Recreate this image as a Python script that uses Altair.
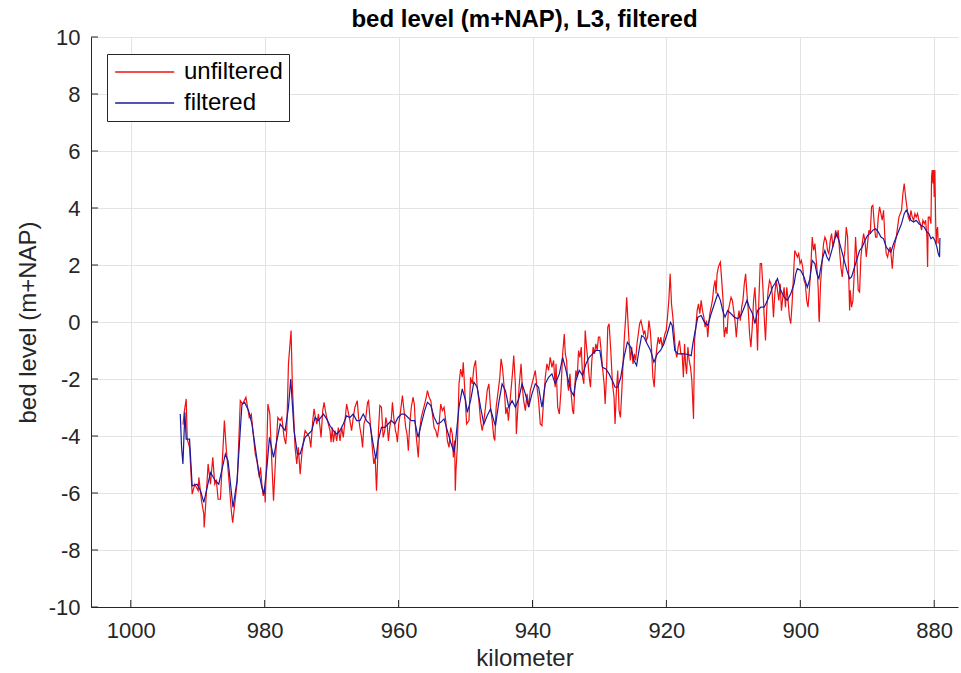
import altair as alt
import pandas as pd

# ---- data ----
red_km = [992.20, 992.02, 991.72, 991.57, 991.22, 990.83, 990.43, 989.93, 989.83, 989.44, 989.09, 989.04, 988.84, 988.45, 988.10, 987.75, 987.46, 987.21, 986.96, 986.61, 986.37, 986.02, 985.72, 985.37, 984.98, 984.78, 984.53, 984.09, 983.64, 983.29, 982.80, 982.30, 982.00, 981.76, 981.41, 981.16, 980.81, 980.62, 980.42, 980.22, 980.02, 979.92, 979.72, 979.52, 979.23, 979.03, 978.68, 978.34, 978.04, 977.69, 977.44, 977.10, 976.85, 976.70, 976.45, 976.06, 975.86, 975.46, 975.21, 974.97,
          974.70, 974.45, 974.20, 973.96, 973.61, 973.31, 973.11, 972.82, 972.62, 972.42, 972.22, 971.97, 971.73, 971.58, 971.33, 971.13, 970.93, 970.74, 970.49, 970.24, 970.09, 969.89, 969.74, 969.50, 969.25, 969.00, 968.75, 968.50, 968.26, 968.01, 967.76, 967.51, 967.27, 967.02, 966.77, 966.52, 966.17, 965.98, 965.78, 965.53, 965.38, 965.18, 964.89, 964.64, 964.49, 964.29, 964.04, 963.89, 963.70, 963.50, 963.30, 963.15, 963.00, 962.80, 962.56, 962.31, 962.06, 961.91, 961.71, 961.52, 961.32, 961.07, 960.92, 960.72, 960.47, 960.33, 960.18, 959.98, 959.83, 959.58, 959.43, 959.19, 958.94, 958.74, 958.54, 958.34, 958.10, 957.85, 957.65, 957.45, 957.25, 957.06, 956.86, 956.61, 956.36, 956.11, 955.87,
          955.69, 955.44, 955.19, 954.70, 954.45, 954.20, 953.95, 953.71, 953.46, 953.21, 952.96, 952.72, 952.47, 952.22, 951.97, 951.82, 951.63, 951.53, 951.43, 951.23, 950.98, 950.73, 950.49, 950.34, 950.14, 949.84, 949.49, 949.25, 949.00, 948.75, 948.50, 948.26, 948.01, 947.76, 947.51, 947.26, 947.02, 946.77, 946.52, 946.27, 946.02, 945.78, 945.63, 945.43, 945.18, 944.88, 944.69, 944.49, 944.19, 943.99, 943.79, 943.60, 943.30, 943.00, 942.80, 942.56, 942.41, 942.21, 942.01, 941.71, 941.51, 941.32, 941.07, 940.82, 940.57, 940.33, 940.08, 939.83, 939.58, 939.33, 939.09, 938.84, 938.59, 938.34, 938.09, 937.85, 937.60, 937.35, 937.10, 936.85, 936.61,
          936.49, 936.24, 935.99, 935.75, 935.50, 935.25, 935.10, 934.90, 934.76, 934.61, 934.41, 934.26, 934.01, 933.86, 933.66, 933.52, 933.32, 933.12, 932.92, 932.72, 932.52, 932.33, 932.13, 931.93, 931.78, 931.53, 931.34, 931.14, 930.94, 930.74, 930.54, 930.34, 930.15, 929.95, 929.75, 929.55, 929.30, 929.15, 928.96, 928.76, 928.56, 928.31, 928.06, 927.82, 927.67, 927.47, 927.27, 927.07, 926.87, 926.68, 926.48, 926.28, 926.08, 925.93, 925.78, 925.59, 925.39, 925.19, 924.99, 924.79, 924.59, 924.40, 924.20, 924.00, 923.80, 923.60, 923.40, 923.21, 923.01, 922.81, 922.61, 922.41, 922.21, 922.02, 921.82, 921.62, 921.42, 921.22, 921.03, 920.83, 920.63, 920.43, 920.23, 920.03, 919.84, 919.64, 919.44, 919.24, 919.04, 918.84, 918.65, 918.45, 918.25, 918.05, 917.85, 917.65, 917.46,
          917.29, 917.14, 916.99, 916.79, 916.60, 916.40, 916.20, 915.95, 915.80, 915.60, 915.41, 915.21, 915.01, 914.81, 914.61, 914.41, 914.22, 914.02, 913.82, 913.67, 913.52, 913.32, 913.13, 912.93, 912.73, 912.58, 912.43, 912.23, 912.04, 911.94, 911.74, 911.54, 911.44, 911.34, 911.14, 910.95, 910.75, 910.55, 910.35, 910.15, 909.95, 909.76, 909.56, 909.36, 909.16, 908.96, 908.76, 908.57, 908.37, 908.17, 907.97, 907.77, 907.58, 907.38, 907.18, 906.98, 906.78, 906.58, 906.39, 906.19, 905.99, 905.79, 905.59, 905.39, 905.20, 905.00, 904.80, 904.60, 904.40, 904.20, 904.01, 903.81, 903.61, 903.41, 903.21, 903.01, 902.82, 902.62, 902.42, 902.22, 902.02, 901.83, 901.63, 901.43, 901.23, 901.03, 900.83, 900.64, 900.44, 900.24, 900.04, 899.84, 899.65, 899.45, 899.25, 899.05, 898.85, 898.65, 898.46,
          898.22, 898.02, 897.82, 897.62, 897.42, 897.32, 897.22, 897.17, 896.98, 896.73, 896.53, 896.33, 896.13, 895.93, 895.73, 895.53, 895.33, 895.13, 894.93, 894.73, 894.54, 894.34, 894.14, 893.94, 893.74, 893.54, 893.34, 893.14, 892.94, 892.74, 892.64, 892.54, 892.35, 892.15, 891.95, 891.75, 891.55, 891.35, 891.15, 890.95, 890.75, 890.55, 890.35, 890.15, 889.96, 889.76, 889.56, 889.36, 889.16, 888.96, 888.76, 888.56, 888.36, 888.16, 887.96, 887.77, 887.57, 887.37, 887.17, 886.97, 886.77, 886.57, 886.37, 886.27, 886.07, 885.87, 885.67, 885.47, 885.27, 885.08, 884.88, 884.68, 884.48, 884.28, 884.08, 883.88, 883.68, 883.48, 883.28, 883.08, 882.89, 882.69, 882.49, 882.29, 882.09, 881.89, 881.69, 881.49, 881.29, 881.09, 880.99, 880.89, 880.69, 880.49, 880.40, 880.30, 880.20, 880.10, 880.00, 879.90, 879.80, 879.70, 879.60, 879.50, 879.40]

red_level = [-3.60, -3.17, -2.70, -4.11, -4.40, -6.04, -5.69, -5.92, -5.45, -6.27, -6.74, -7.21, -6.51, -4.98, -5.69, -4.75, -5.69, -5.57, -6.22, -6.22, -5.10, -3.46, -4.52, -5.45, -6.63, -7.04, -6.51, -5.57, -2.76, -2.88, -2.64, -3.35, -3.23, -3.81, -4.63, -4.87, -5.45, -5.10, -5.69, -6.10, -5.81, -6.33, -4.87, -2.88, -3.23, -4.40, -6.27, -4.63, -3.35, -3.46, -3.35, -4.05, -4.28, -3.81, -1.47, -0.30, -2.29, -4.40, -4.98, -4.40,
             -5.34, -4.63, -4.17, -3.81, -3.93, -4.05, -4.40, -3.46, -3.05, -3.35, -3.58, -3.23, -3.70, -4.05, -3.11, -2.82, -3.11, -3.35, -3.58, -3.81, -4.22, -3.70, -4.22, -3.81, -4.17, -3.70, -4.17, -3.70, -4.05, -3.46, -2.88, -3.17, -3.46, -3.81, -3.35, -2.99, -2.76, -3.35, -3.70, -4.05, -4.40, -3.58, -3.35, -2.82, -2.76, -3.35, -4.05, -4.52, -4.98, -4.75, -5.92, -4.98, -3.81, -2.93, -2.99, -4.05, -3.81, -3.35, -3.58, -4.17, -3.70, -3.35, -2.82, -3.35, -3.81, -3.93, -4.22, -3.58, -3.35, -2.88, -2.58, -3.11, -3.70, -3.93, -4.52, -3.58, -2.99, -2.64, -2.88, -3.81, -4.28, -4.75, -3.81, -3.35, -3.11, -2.88, -2.64,
             -2.41, -2.64, -2.76, -3.70, -3.81, -4.05, -3.58, -2.88, -3.11, -2.99, -3.46, -4.16, -4.40, -3.70, -3.93, -4.75, -4.16, -5.92, -5.22, -4.40, -2.17, -1.65, -1.94, -1.41, -2.29, -3.58, -3.46, -1.94, -2.17, -1.59, -1.35, -2.29, -2.76, -3.46, -3.81, -3.46, -2.99, -2.41, -2.17, -2.99, -3.46, -4.05, -4.16, -2.99, -2.52, -1.94, -1.29, -1.59, -2.41, -3.23, -2.99, -3.46, -2.64, -1.82, -1.18, -2.17, -3.93, -3.11, -2.29, -1.47, -2.29, -2.76, -3.11, -2.52, -2.99, -2.41, -2.17, -1.94, -1.70, -2.29, -2.76, -3.58, -3.64, -2.76, -1.94, -1.47, -1.70, -1.24, -1.59, -1.35, -2.29,
             -1.47, -2.99, -3.23, -2.41, -1.12, -0.42, -1.12, -1.35, -2.17, -2.41, -1.82, -2.41, -3.11, -3.23, -2.17, -1.70, -1.94, -1.00, -1.24, -0.88, -1.94, -2.17, -0.30, -0.88, -1.24, -1.94, -2.29, -1.35, -0.88, -1.12, -0.77, -1.00, -0.53, -0.53, -1.00, -1.59, -2.17, -2.88, -1.94, -0.18, -0.06, -1.00, -2.17, -2.64, -3.58, -2.41, -1.70, -3.11, -3.35, -2.52, -1.47, -0.53, 0.17, 0.87, 0.17, -0.65, -1.35, -0.88, -1.47, -1.12, -1.35, -0.77, -0.42, -0.06, 0.05, -0.18, -0.42, -0.30, -0.65, -0.53, 0.05, -0.30, -1.00, -1.94, -2.29, -1.35, -0.88, -0.53, -0.77, -0.53, -0.88, -0.65, -0.42, -0.30, 0.17, 0.76, 1.69, 0.64, 0.17, -0.42, -1.00, -1.24, -0.88, -0.65, -1.12, -1.12, -1.94,
             -0.77, -1.47, -1.82, -0.88, -1.35, -1.59, -2.06, -3.40, -0.65, -0.18, 0.40, 0.64, 0.29, 0.76, 0.40, 0.17, -0.18, 0.05, -0.53, -0.06, 0.29, 0.52, 0.76, 1.22, 1.46, 0.99, 1.69, 1.93, 2.05, 2.10, 1.46, 0.76, -0.18, -0.53, -0.18, -0.42, 0.40, 0.64, 0.87, 0.76, 0.40, 0.05, -0.53, 0.05, 0.40, 0.05, 0.52, 0.76, 1.34, 1.69, 0.99, 0.40, -0.42, -0.88, -0.18, 0.76, 1.22, 0.29, -1.00, 0.76, 2.05, 2.05, 1.22, 0.17, -0.65, 0.52, 1.11, 1.46, 1.34, 0.99, 0.17, 0.99, 1.46, 1.11, 0.76, 1.34, 0.40, 0.87, 1.22, 0.52, 1.22, 0.76, 0.17, -0.06, 0.64, 1.58, 2.51, 2.40, 2.28, 2.40, 2.05, 2.16, 1.93, 1.46, 1.34, 0.76, 0.52, 1.11, 1.81,
             2.98, 2.51, 2.75, 2.16, 1.58, 1.11, 0.17, 0.00, 1.34, 2.16, 2.75, 2.98, 2.86, 2.51, 2.40, 2.86, 3.10, 2.63, 2.86, 3.22, 2.98, 3.22, 2.51, 1.93, 1.58, 2.16, 2.51, 3.33, 2.98, 1.34, 0.40, 1.11, 0.52, 0.75, 1.69, 2.98, 2.16, 1.11, 1.05, 2.28, 2.75, 3.10, 2.86, 2.28, 2.75, 3.22, 3.10, 4.04, 4.09, 3.45, 2.98, 2.98, 3.68, 4.04, 3.80, 3.57, 3.92, 2.98, 2.40, 2.28, 2.51, 2.63, 2.16, 1.87, 2.51, 2.75, 2.98, 3.33, 3.68, 3.80, 3.92, 4.50, 4.86, 4.39, 4.04, 3.68, 3.57, 3.92, 3.68, 3.57, 3.80, 3.68, 3.80, 3.57, 3.45, 3.22, 3.57, 3.45, 3.57, 2.98, 1.93, 3.68, 3.68, 3.45, 5.09, 5.33, 4.86, 5.33, 4.39, 5.33, 3.68, 2.75, 3.22, 3.33, 2.75]

blue_km = [992.61, 992.41, 992.21, 991.92, 991.72, 991.22, 990.83, 990.08, 989.59, 989.09, 988.10, 987.36, 986.86, 985.87, 985.47, 984.73, 984.13, 983.39, 982.99, 982.40, 981.90, 981.41, 980.91, 980.42, 980.12, 979.67, 979.28, 978.68, 977.69, 976.95, 976.45, 976.11, 975.61, 975.11,
           974.70, 973.96, 973.46, 972.97, 972.47, 971.97, 971.23, 970.74, 970.24, 969.74, 969.25, 968.75, 968.26, 967.76, 967.27, 966.77, 966.27, 965.78, 965.28, 964.79, 964.29, 963.80, 963.40, 963.05, 962.56, 962.06, 961.57, 961.07, 960.57, 960.08, 959.58, 959.09, 958.59, 958.10, 957.60, 957.10, 956.61, 956.11,
           955.69, 955.19, 954.70, 954.20, 953.71, 953.21, 952.72, 952.22, 951.72, 951.48, 950.98, 950.49, 949.99, 949.74, 949.25, 948.75, 948.26, 947.76, 947.26, 946.77, 946.27, 945.78, 945.53, 945.03, 944.54, 944.04, 943.55, 943.05, 942.56, 942.06, 941.56, 941.07, 940.57, 940.08, 939.58, 939.09, 938.59, 938.09, 937.60, 937.10, 936.61,
           935.99, 935.50, 935.10, 934.76, 934.26, 933.86, 933.52, 933.02, 932.52, 932.03, 931.53, 931.04, 930.54, 929.95, 929.55, 929.05, 928.56, 928.06, 927.67, 927.27, 926.82, 926.33, 925.83, 925.34, 924.84, 924.45, 924.10, 923.70, 923.36, 922.86, 922.36, 921.87, 921.37, 920.88, 920.38, 919.89, 919.39, 919.14, 918.75, 918.25, 917.76,
           917.29, 916.79, 916.30, 916.05, 915.70, 915.31, 914.81, 914.32, 913.82, 913.32, 912.83, 912.33, 911.94, 911.59, 911.24, 910.85, 910.35, 909.86, 909.36, 908.86, 908.37, 907.97, 907.62, 907.13, 906.78, 906.39, 905.89, 905.39, 904.90, 904.50, 904.16, 903.81, 903.41, 902.92, 902.42, 901.93, 901.43, 900.93, 900.69, 900.44, 899.94, 899.45, 898.95, 898.56,
           898.22, 897.82, 897.52, 897.22, 896.93, 896.63, 896.33, 896.03, 895.73, 895.43, 895.03, 894.63, 894.24, 893.84, 893.44, 893.04, 892.64, 892.35, 892.05, 891.75, 891.45, 891.15, 890.75, 890.35, 889.96, 889.56, 889.16, 888.76, 888.36, 887.96, 887.57, 887.17, 886.77, 886.47, 886.07, 885.67, 885.27, 884.88, 884.48, 884.18, 883.88, 883.48, 883.08, 882.69, 882.29, 881.89, 881.49, 881.09, 880.79, 880.49, 880.20, 879.90, 879.60, 879.40, 879.20, 879.15]

blue_level = [-3.23, -4.40, -4.98, -3.17, -4.11, -4.11, -5.75, -5.69, -5.92, -6.33, -5.28, -5.57, -5.69, -4.63, -4.87, -6.51, -5.57, -2.88, -2.82, -3.11, -3.58, -4.40, -5.22, -5.81, -6.04, -5.10, -4.05, -4.75, -3.58, -3.81, -3.00, -2.00, -3.81, -4.63,
              -4.63, -4.05, -3.93, -3.81, -3.35, -3.46, -3.23, -3.40, -3.64, -3.81, -3.93, -3.81, -3.58, -3.29, -3.35, -3.23, -3.46, -3.46, -3.23, -3.46, -3.58, -4.28, -4.81, -4.17, -3.70, -3.70, -3.58, -3.46, -3.58, -3.35, -3.23, -3.23, -3.35, -3.46, -3.46, -4.05, -3.58, -3.11,
              -2.82, -2.93, -3.34, -3.58, -3.52, -3.40, -3.81, -4.22, -4.57, -4.16, -2.99, -2.35, -2.76, -3.17, -2.76, -2.11, -2.29, -2.99, -3.58, -3.29, -3.05, -3.46, -3.64, -2.82, -2.17, -2.41, -2.99, -2.76, -2.99, -2.70, -2.17, -2.52, -2.99, -2.52, -2.17, -2.29, -2.99, -2.17, -1.94, -1.82, -2.17,
              -1.82, -1.24, -1.59, -1.94, -2.41, -2.58, -2.06, -1.70, -1.88, -1.47, -1.24, -1.12, -1.00, -1.00, -1.59, -1.65, -1.82, -2.06, -2.29, -2.29, -1.94, -1.24, -0.71, -0.88, -1.35, -1.53, -1.00, -0.48, -0.53, -0.77, -1.00, -1.41, -1.12, -1.00, -0.77, -0.42, -0.01, -0.12, -1.00, -1.12, -1.12,
              -1.12, -1.14, -1.18, -0.77, -0.30, 0.17, 0.23, -0.01, -0.12, 0.29, 0.64, 0.99, 0.76, 0.40, 0.17, 0.40, 0.29, 0.17, 0.11, 0.23, 0.52, 0.76, 0.52, 0.29, -0.06, 0.40, 0.52, 0.52, 0.76, 0.99, 1.22, 1.34, 1.52, 1.11, 0.87, 0.76, 0.99, 1.34, 1.69, 1.87, 1.81, 1.58, 1.22, 1.52,
              2.16, 2.04, 1.69, 1.52, 1.93, 2.28, 2.51, 2.28, 2.16, 2.40, 2.75, 3.10, 2.86, 2.51, 2.16, 1.81, 1.52, 1.58, 1.81, 2.04, 2.28, 2.51, 2.63, 2.86, 3.04, 3.10, 3.22, 3.27, 3.16, 2.98, 2.92, 2.63, 2.51, 2.45, 2.75, 2.98, 3.22, 3.45, 3.80, 3.92, 3.80, 3.57, 3.51, 3.57, 3.45, 3.39, 3.33, 3.16, 3.10, 2.92, 2.98, 2.86, 2.63, 2.40, 2.28, 2.95]

x_ticks = [1000, 980, 960, 940, 920, 900, 880]
y_ticks = [-10, -8, -6, -4, -2, 0, 2, 4, 6, 8, 10]
series_names = ["unfiltered", "filtered"]
series_colors = ["#f01010", "#1a1aa0"]

# ---- tables ----
red = pd.DataFrame({"km": red_km, "level": red_level, "series": series_names[0]})
red["idx"] = range(len(red))
blue = pd.DataFrame({"km": blue_km, "level": blue_level, "series": series_names[1]})
blue["idx"] = range(len(blue))
xt = pd.DataFrame({"km": x_ticks})
yt = pd.DataFrame({"level": y_ticks})

FONT = "Liberation Sans"
W, H = 867, 570

x_scale = alt.Scale(domain=[876.45, 1005.94], reverse=True, nice=False, zero=False)
y_scale = alt.Scale(domain=[-10, 10], nice=False, zero=False)
x_axis = alt.Axis(values=x_ticks, labelExpr="toString(datum.value)", title="kilometer",
                  grid=True, ticks=False, labelPadding=13, titlePadding=5)
y_axis = alt.Axis(values=y_ticks, labelExpr="toString(datum.value)", title="bed level (m+NAP)",
                  grid=True, ticks=False, labelPadding=11, titlePadding=8)

def X():
    return alt.X("km:Q", scale=x_scale, axis=x_axis)

def Y():
    return alt.Y("level:Q", scale=y_scale, axis=y_axis)

# legend line symbol: a flat path, wider than the nominal symbol box
SYM = 387
color = alt.Color(
    "series:N",
    scale=alt.Scale(domain=series_names, range=series_colors),
    legend=alt.Legend(
        orient="none", legendX=16, legendY=17, title=None,
        symbolType="M-1,0H5", symbolSize=SYM, symbolStrokeWidth=1.3,
        labelFontSize=24, labelFont=FONT, labelColor="#000000",
        padding=6, rowPadding=7, labelOffset=47,
        strokeColor="#262626", fillColor="#ffffff",
    ),
)

red_line = alt.Chart(red).mark_line(strokeWidth=1.2).encode(
    x=X(), y=Y(), color=color, order="idx:Q")
blue_line = alt.Chart(blue).mark_line(strokeWidth=1.2).encode(
    x=X(), y=Y(), color=color, order="idx:Q")

x_tick_marks = alt.Chart(xt).mark_rule(color="#262626", strokeWidth=1).encode(
    x=X(), y=alt.value(H), y2=alt.value(H - 7))
y_tick_marks = alt.Chart(yt).mark_rule(color="#262626", strokeWidth=1).encode(
    y=Y(), x=alt.value(0), x2=alt.value(7))

chart = alt.layer(red_line, blue_line, x_tick_marks, y_tick_marks).properties(
    width=W, height=H,
    title=alt.TitleParams("bed level (m+NAP), L3, filtered", font=FONT, fontSize=24,
                          fontWeight="bold", color="#000000", anchor="middle", offset=-6),
    autosize=alt.AutoSizeParams(type="none"),
    padding={"left": 91, "top": 37, "right": 3, "bottom": 66},
    background="#ffffff",
).configure_view(stroke=None).configure_axis(
    labelFont=FONT, labelFontSize=22, labelColor="#262626",
    titleFont=FONT, titleFontSize=24, titleFontWeight="normal", titleColor="#262626",
    gridColor="#e3e3e3", gridWidth=1, domainColor="#262626", domainWidth=1,
)

chart.save("out.html", embed_options={"renderer": "svg", "actions": False})
